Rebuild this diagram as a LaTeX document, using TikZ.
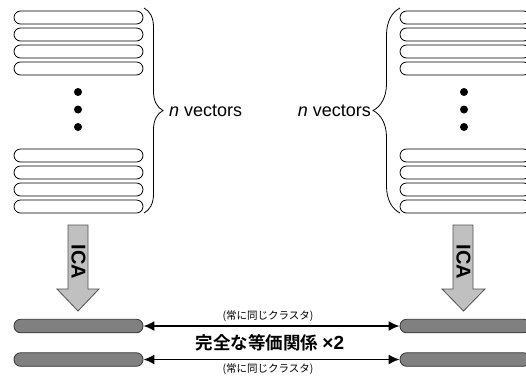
\documentclass[tikz,border=0pt]{standalone}
\usepackage{fontspec}
\setmainfont{Liberation Sans}
\newfontfamily\jp{Noto Sans CJK JP}[BoldFont={Noto Sans CJK JP Bold}]
\usetikzlibrary{decorations.pathreplacing,arrows.meta}
\definecolor{icafill}{HTML}{C0C0C0}
\definecolor{icaedge}{HTML}{505050}
\definecolor{outfill}{HTML}{808080}
\definecolor{outedge}{HTML}{333333}
\tikzset{
  vecbar/.style={draw=black, line width=0.8pt, fill=white, rounded corners=6.5pt},
  outbar/.style={draw=outedge, line width=0.8pt, fill=outfill, rounded corners=6.5pt},
  dotmark/.style={circle, fill=black, inner sep=0pt, minimum size=8pt},
  bracedec/.style={decorate, line width=0.8pt},
  icaarrow/.style={draw=icaedge, fill=icafill, line width=0.8pt},
  link/.style={line width=1.8pt, {Latex[length=11pt,width=10pt]}-{Latex[length=11pt,width=10pt]}},
  lbl/.style={font=\fontsize{18}{20}\selectfont, inner sep=0pt}
}
\begin{document}
\begin{tikzpicture}[x=1pt,y=-1pt]
\useasboundingbox (0,0) rectangle (526,376);
\clip (0,0) rectangle (526,376);
% vector stacks
\foreach \y in {11,28,45,62,149,166,183,200}{
  \path[vecbar] (14,\y) rectangle (143,\y+13);
}
\foreach \y in {11,28,45,62,149,166,183,200}{
  \path[vecbar] (400,\y) rectangle (530,\y+13);
}
\node[dotmark] (ld1) at (78,92) {};
\node[dotmark] (ld2) at (78,109.5) {};
\node[dotmark] (ld3) at (78,127) {};
\node[dotmark] (rd1) at (464,92) {};
\node[dotmark] (rd2) at (464,109.5) {};
\node[dotmark] (rd3) at (464,127) {};
% braces
\coordinate (lbt) at (144,8);
\coordinate (lbb) at (144,213);
\draw[bracedec, decoration={brace, amplitude=19pt}] (lbt) -- (lbb);
\node[lbl, anchor=west] (ln) at (169,111) {\textit{n} vectors};
\coordinate (rbt) at (400,8);
\coordinate (rbb) at (400,213);
\draw[bracedec, decoration={brace, amplitude=27pt}] (rbb) -- (rbt);
\node[lbl, anchor=east] (rn) at (371,111) {\textit{n} vectors};
% ICA arrows
\path[icaarrow] (68,225) -- (88,225) -- (88,289) -- (99,289) -- (78,311) -- (57,289) -- (68,289) -- cycle;
\node[rotate=-90, font=\bfseries\fontsize{20}{20}\selectfont, inner sep=0pt] (lica) at (78.5,262) {ICA};
\path[icaarrow] (453,225) -- (473,225) -- (473,289) -- (485,289) -- (463.5,311) -- (442,289) -- (453,289) -- cycle;
\node[rotate=-90, font=\bfseries\fontsize{20}{20}\selectfont, inner sep=0pt] (rica) at (463.5,262) {ICA};
% output bars
\node[outbar, minimum width=129pt, minimum height=13.5pt, inner sep=0pt] (o1) at (78.5,326) {};
\node[outbar, minimum width=129pt, minimum height=13.5pt, inner sep=0pt] (o2) at (78.5,359.5) {};
\node[outbar, minimum width=130pt, minimum height=13.5pt, inner sep=0pt] (p1) at (465,326) {};
\node[outbar, minimum width=130pt, minimum height=13.5pt, inner sep=0pt] (p2) at (465,359.5) {};
\draw[link] (o1.east) -- (p1.west);
\draw[link] (o2.east) -- (p2.west);
\node[font=\jp\fontsize{10.5}{12}\selectfont, inner sep=0pt] (t1) at (268,316) {(常に同じクラスタ)};
\node[font=\jp\bfseries\fontsize{17.5}{20}\selectfont, inner sep=0pt] (t2) at (270,343) {完全な等価関係 {\rmfamily\bfseries\fontsize{19}{20}\selectfont ×2}};
\node[font=\jp\fontsize{10.5}{12}\selectfont, inner sep=0pt] (t3) at (268,369) {(常に同じクラスタ)};
\end{tikzpicture}
\end{document}
